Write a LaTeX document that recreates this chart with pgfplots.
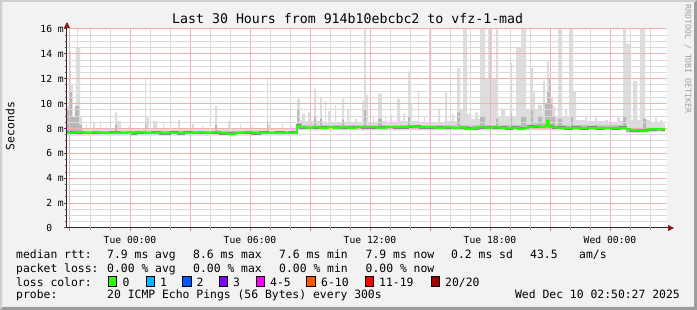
\documentclass[border=0pt]{standalone}
\usepackage{pgfplots}
\pgfplotsset{compat=1.18}
\usetikzlibrary{arrows.meta}
\usepackage{fontspec}
\setmainfont{DejaVu Sans Mono}
\definecolor{bg}{HTML}{F2F2F2}
\definecolor{shadea}{HTML}{CFCFCF}
\definecolor{shadeb}{HTML}{9C9C9C}
\definecolor{mgrid}{HTML}{F2B0B0}
\definecolor{ngrid}{HTML}{DADADA}
\definecolor{mtick}{HTML}{E27070}
\definecolor{arrowred}{HTML}{8B1A1A}
\definecolor{smokeA}{HTML}{DDDDDD}
\definecolor{smokeB}{HTML}{B8B8B8}
\definecolor{smokeC}{HTML}{8A8A8A}
\definecolor{med}{HTML}{26FF00}
\definecolor{lA}{HTML}{00B8FF}
\definecolor{lB}{HTML}{0059FF}
\definecolor{lC}{HTML}{7E00FF}
\definecolor{lD}{HTML}{FF00FF}
\definecolor{lE}{HTML}{FF5500}
\definecolor{lF}{HTML}{FF0000}
\definecolor{lG}{HTML}{A10000}
\definecolor{wm}{HTML}{A0A0A0}
\newcommand{\lf}{\fontsize{11.4}{13}\selectfont}
\pgfplotstableread{
x y
67 7.66
75 7.70
84 7.64
92 7.68
100 7.64
110 7.66
120 7.64
127 7.72
132 7.62
136 7.68
145 7.63
152 7.66
160 7.62
170 7.66
178 7.6
184 7.66
192 7.64
198 7.70
205 7.64
212 7.70
220 7.62
228 7.58
236 7.64
244 7.68
252 7.62
260 7.66
268 7.64
276 7.66
284 7.64
290 7.66
297 8.22
300 8.08
306 8.04
312 8.08
320 8.06
328 8.12
334 8.06
340 8.1
348 8.06
356 8.12
362 8.08
370 8.1
378 8.06
386 8.12
394 8.08
402 8.1
408 8.18
414 8.14
420 8.08
428 8.1
436 8.06
444 8.1
452 8.04
460 8.08
465 7.98
472 8.02
478 8.08
486 8.06
492 8.1
500 8.06
506 8.0
512 8.06
518 7.98
524 8.04
528 8.14
534 8.18
540 8.12
545 8.2
547 8.6
549 8.14
553 8.1
558 8.06
565 8.02
572 8.06
580 8.02
588 8.06
596 8.0
604 8.04
612 8.02
620 8.06
626 7.96
630 7.86
640 7.82
648 7.92
656 7.96
662 7.92
665 7.92
}\mediantable
\begin{document}
\begin{tikzpicture}
\useasboundingbox (0pt,0pt) rectangle (697pt,310pt);
\fill[bg] (0pt,0pt) rectangle (697pt,310pt);
\fill[shadea] (0pt,0pt) -- (0pt,310pt) -- (697pt,310pt) -- (695pt,308pt) -- (2pt,308pt) -- (2pt,2pt) -- cycle;
\fill[shadeb] (0pt,0pt) -- (697pt,0pt) -- (697pt,310pt) -- (694pt,307pt) -- (694pt,3pt) -- (3pt,3pt) -- cycle;
\begin{axis}[
  axis on top,
  at={(67pt,82pt)}, anchor=south west,
  scale only axis, width=600pt, height=199pt,
  xmin=67, xmax=667, ymin=0, ymax=16,
  axis x line=bottom, axis y line=left,
  axis line style={color=black!85, line width=1pt},
  x axis line style={shorten >=-7pt, -{Triangle[length=6pt,width=6pt,color=arrowred]}},
  y axis line style={shorten >=-7pt, -{Triangle[length=6pt,width=6pt,color=arrowred]}},
  axis background/.style={fill=white},
  xtick={70,130,190,250,310,370,430,490,550,610},
  xticklabels={,Tue 00:00,,Tue 06:00,,Tue 12:00,,Tue 18:00,,Wed 00:00},
  ytick={0,2,4,6,8,10,12,14,16},
  yticklabels={0\phantom{mm},2 m,4 m,6 m,8 m,10 m,12 m,14 m,16 m},
  extra x ticks={90,110,150,170,210,230,270,290,330,350,390,410,450,470,510,530,570,590,630,650},
  extra x tick labels={},
  extra y ticks={0.5,1,1.5,2.5,3,3.5,4.5,5,5.5,6.5,7,7.5,8.5,9,9.5,10.5,11,11.5,12.5,13,13.5,14.5,15,15.5},
  extra y tick labels={},
  extra tick style={grid=major, major grid style={color=ngrid, line width=1pt, solid}, major tick length=2pt, tick style={color=ngrid, line width=1pt}},
  grid=major,
  major grid style={color=mgrid, line width=1pt, solid},
  tick align=outside,
  major tick length=3pt,
  xtick style={color=mtick, line width=1pt},
  ytick style={color=black!70, line width=1pt},
  tick label style={font=\fontsize{9.7}{11}\selectfont, text=black},
  xticklabel style={anchor=base, yshift=-13pt},
  yticklabel style={anchor=east, inner sep=0pt},
]
% light smoke (extreme pings): upper envelope, then lower envelope backwards
\addplot[fill=smokeA, draw=none, const plot] coordinates {
(67,9.8)(69,14.2)(71,11.5)(73,9.0)(76,14.5)(77,16)(78,14.5)(80,9.0)(82,7.95)(86,8.3)(87,7.95)(93,8.5)(95,7.95)(100,8.6)(101,7.95)(106,8.2)(107,7.95)(115,9.3)(117,8.6)(121,7.95)(128,8.2)(129,7.95)(145,12.0)(146,8.9)(149,7.95)(153,8.6)(157,7.95)(163,8.5)(164,7.95)(170,8.6)(171,7.95)(178,8.7)(180,7.95)(192,8.4)(194,7.95)(202,8.2)(203,7.95)(215,9.8)(217,7.95)(228,8.6)(230,7.95)(240,8.4)(241,7.95)(252,8.3)(253,7.95)(267,12.0)(268,8.3)(270,7.95)(282,8.5)(283,7.95)(290,8.2)(292,7.95)
(297,10.4)(300,8.7)(302,9.2)(305,8.6)(308,9.3)(311,8.6)(314,11.2)(316,8.6)(320,10.5)(322,8.5)(325,10.2)(326,8.5)(328,9.4)(330,8.5)(335,9.9)(336,8.5)(342,10.4)(344,8.5)(347,9.5)(349,8.45)(355,8.8)(357,8.45)(362,10.2)(364,16)(366,10.7)(368,8.45)(373,9.0)(374,8.45)(378,10.8)(382,8.6)(385,9.0)(386,8.45)(390,9.1)(392,8.45)(397,10.4)(400,8.6)(403,9.2)(405,8.6)(408,12.6)(410,10.0)(412,8.6)(418,11.0)(419,8.45)(424,9.0)(425,8.45)(429,16)(431,8.45)(438,9.6)(440,8.45)(445,10.9)(447,8.6)(452,9.2)(454,8.6)(457,12.85)(460,9.5)(463,16)(467,9.2)(470,10.3)(471,8.8)(475,9.3)(478,8.8)(480,16)(485,12.0)(488,16)(492,12.0)(496,16)(498,9.0)(501,9.6)(505,9.0)(510,13.3)(512,9.0)(516,14.5)(521,16)(526,9.5)(530,12.9)(533,11.0)(535,9.5)(538,9.9)(542,9.2)(543,11.8)(545,9.5)(547,13.4)(549,10.5)(553,9.8)(555,9.0)(558,16)(562,9.0)(565,9.5)(567,9.0)(569,16)(573,11.0)(576,8.7)(585,9.0)(587,8.6)(595,8.9)(597,8.6)(605,8.7)(608,8.5)(617,8.9)(620,8.6)(623,16)(626,14.8)(631,8.7)(633,11.8)(637,8.7)(640,16)(645,8.7)(650,8.5)(655,8.9)(657,8.5)(660,8.7)(662,8.4)(665,8.4)
(665,7.7)(648,7.7)(648,7.62)(626,7.62)(626,7.85)(297,7.85)(297,7.42)(67,7.42)} -- cycle;
% mid smoke
\addplot[fill=smokeB, draw=none, const plot] coordinates {
(67,9.5)(70,11.0)(72,9.0)(75,9.8)(79,8.3)(82,7.8)(115,8.3)(117,7.8)(145,8.5)(146,7.8)(215,8.3)(217,7.8)(267,8.6)(268,7.8)
(297,9.5)(299,8.5)(302,8.25)(314,9.0)(316,8.25)(320,8.8)(322,8.25)(342,8.7)(344,8.25)(364,9.5)(366,8.25)(378,8.8)(382,8.25)(408,9.0)(410,8.25)(457,9.3)(460,8.25)(480,9.0)(485,8.25)(496,8.8)(498,8.25)(510,9.2)(512,8.25)(521,9.0)(526,8.25)(530,9.5)(533,8.4)(538,9.0)(542,8.5)(545,10.0)(547,11.0)(549,12.0)(550,10.0)(552,9.0)(555,8.25)(558,8.8)(562,8.25)(570,9.0)(573,8.25)(623,9.0)(626,8.05)(643,8.8)(646,8.05)(665,8.05)
(665,7.8)(648,7.8)(648,7.72)(626,7.72)(626,7.94)(297,7.94)(297,7.52)(67,7.52)} -- cycle;
\end{axis}
% median rtt drawn above the grid, on the same axis frame
\begin{axis}[
  at={(67pt,82pt)}, anchor=south west,
  scale only axis, width=600pt, height=199pt,
  xmin=67, xmax=667, ymin=0, ymax=16,
  hide axis,
]
\addplot[const plot, smokeC, line width=2.8pt] table[x=x,y=y] {\mediantable};
\addplot[const plot, med, line width=2pt] table[x=x,y=y] {\mediantable};
\end{axis}
% title, axis label, watermark
\node[anchor=base, inner sep=0pt, font=\fontsize{13.25}{15}\selectfont] at (347.7pt,286pt) {Last 30 Hours from 914b10ebcbc2 to vfz-1-mad};
\node[rotate=90, font=\lf] at (10pt,184pt) {Seconds};
\node[rotate=-90, font=\fontsize{8.2}{9}\selectfont, text=wm] at (688pt,251pt) {RRDTOOL / TOBI OETIKER};
% legend
\begin{scope}[every node/.style={anchor=base west, inner sep=0pt, font=\lf}]
\node at (16pt,51pt) {median rtt:};
\node at (107pt,51pt) {7.9 ms avg};
\node at (193pt,51pt) {8.6 ms max};
\node at (279pt,51pt) {7.6 ms min};
\node at (365.5pt,51pt) {7.9 ms now};
\node at (451pt,51pt) {0.2 ms sd};
\node at (530pt,51pt) {43.5};
\node at (579pt,51pt) {am/s};
\node at (16pt,37.3pt) {packet loss:};
\node at (107pt,37.3pt) {0.00 \% avg};
\node at (193pt,37.3pt) {0.00 \% max};
\node at (279pt,37.3pt) {0.00 \% min};
\node at (365.5pt,37.3pt) {0.00 \% now};
\node at (16pt,23.7pt) {loss color:};
\node at (122.5pt,23.7pt) {0};
\node at (160pt,23.7pt) {1};
\node at (196.5pt,23.7pt) {2};
\node at (233pt,23.7pt) {3};
\node at (270pt,23.7pt) {4-5};
\node at (321pt,23.7pt) {6-10};
\node at (379pt,23.7pt) {11-19};
\node at (445pt,23.7pt) {20/20};
\node at (16pt,11pt) {probe:};
\node at (107pt,11pt) {20 ICMP Echo Pings (56 Bytes) every 300s};
\node[anchor=base east] at (680pt,11pt) {Wed Dec 10 02:50:27 2025};
\end{scope}
\foreach \bx/\bc in {108.3/med,146/lA,182.7/lB,219.3/lC,256/lD,306.7/lE,365/lF,431/lG}{
  \filldraw[fill=\bc, draw=black, line width=0.8pt] (\bx pt,24pt) rectangle ++(8.5pt,10pt);
}
\end{tikzpicture}
\end{document}
